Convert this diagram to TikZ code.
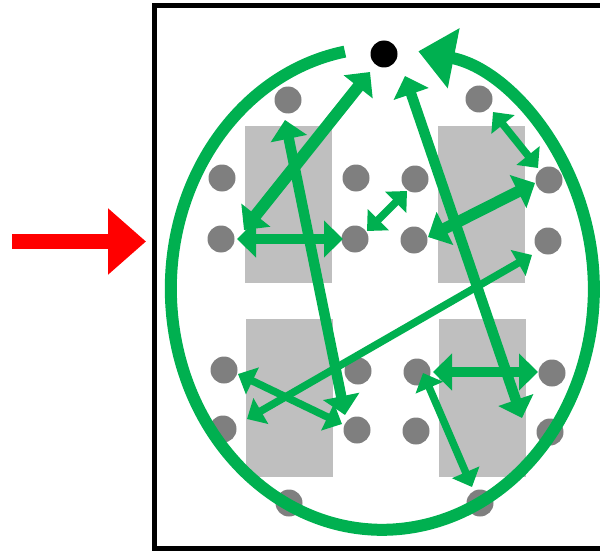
\documentclass[tikz,border=0pt]{standalone}
\usetikzlibrary{arrows.meta}
\definecolor{grn}{HTML}{00B050}
\definecolor{seatgray}{HTML}{7F7F7F}
\definecolor{tablegray}{HTML}{BFBFBF}
\tikzset{
  seat/.style={circle, fill=seatgray, minimum size=27pt, inner sep=0pt, draw=none},
  exitdot/.style={circle, fill=black, minimum size=27pt, inner sep=0pt, draw=none},
  table/.style={fill=tablegray},
  link/.style={draw=grn, line width=10.5pt,
    {Triangle[width=36pt,length=19pt]}-{Triangle[width=36pt,length=19pt]}},
  thinlink/.style={draw=grn, line width=7.5pt,
    {Triangle[width=29pt,length=16pt]}-{Triangle[width=29pt,length=16pt]}},
}
\begin{document}
\begin{tikzpicture}[x=1pt,y=-1pt]
\useasboundingbox (0,0) rectangle (600,551);
\clip (0,0) rectangle (600,551);

% room outline
\draw[line width=5pt] (154,6) rectangle (660,548);

% tables
\fill[table] (245,126) rectangle (332,283);
\fill[table] (438,126) rectangle (525,283);
\fill[table] (246,319) rectangle (333,477);
\fill[table] (439,319) rectangle (526,477);

% seats
\node[seat] (s1) at (288,100) {};
\node[seat] (s2) at (479,99) {};
\node[seat] (s3) at (222,178) {};
\node[seat] (s4) at (356,178) {};
\node[seat] (s5) at (415,179) {};
\node[seat] (s6) at (549,180) {};
\node[seat] (s7) at (221,239) {};
\node[seat] (s8) at (355,239) {};
\node[seat] (s9) at (414,240) {};
\node[seat] (s10) at (548,241) {};
\node[seat] (s11) at (224,370) {};
\node[seat] (s12) at (358,371) {};
\node[seat] (s13) at (417,372) {};
\node[seat] (s14) at (552,373) {};
\node[seat] (s15) at (223,429) {};
\node[seat] (s16) at (357,430) {};
\node[seat] (s17) at (416,431) {};
\node[seat] (s18) at (550,432) {};
\node[seat] (s19) at (289,503) {};
\node[seat] (s20) at (480,503) {};

% exit point
\node[exitdot] (exit) at (384,54) {};

% circulation loop around the room
\coordinate (loopstart) at (344.9,51.6);
\draw[grn, line width=12pt, -{Triangle[width=59pt,length=36pt]}]
  (loopstart) arc[start angle=259.8, end angle=-80.2, x radius=211.5, y radius=241];

% movement end points
\coordinate (a1s) at (244,230);  \coordinate (a1e) at (370,72);
\coordinate (a2s) at (285,120);  \coordinate (a2e) at (345,415);
\coordinate (a3s) at (237,239);  \coordinate (a3e) at (343,239);
\coordinate (a4s) at (367,231);  \coordinate (a4e) at (407,191);
\coordinate (a5s) at (405,76);   \coordinate (a5e) at (522,418);
\coordinate (a6s) at (428,237);  \coordinate (a6e) at (535,183);
\coordinate (a7s) at (493,112);  \coordinate (a7e) at (538,168);
\coordinate (a8s) at (532,255);  \coordinate (a8e) at (247,419);
\coordinate (a9s) at (238,374);  \coordinate (a9e) at (342,424);
\coordinate (a10s) at (433,372); \coordinate (a10e) at (538,372);
\coordinate (a11s) at (423,373); \coordinate (a11e) at (472,487);

% movements
\draw[link, line width=12pt] (a1s) -- (a1e);
\draw[link] (a2s) -- (a2e);
\draw[link] (a3s) -- (a3e);
\draw[thinlink] (a4s) -- (a4e);
\draw[link] (a5s) -- (a5e);
\draw[link, line width=11.5pt] (a6s) -- (a6e);
\draw[thinlink] (a7s) -- (a7e);
\draw[thinlink] (a8s) -- (a8e);
\draw[thinlink] (a9s) -- (a9e);
\draw[link] (a10s) -- (a10e);
\draw[thinlink] (a11s) -- (a11e);

% entrance arrow
\coordinate (in) at (12,241.5);
\coordinate (door) at (146,241.5);
\draw[red, line width=15pt, -{Triangle[width=64pt,length=38pt]}] (in) -- (door);
\end{tikzpicture}
\end{document}
